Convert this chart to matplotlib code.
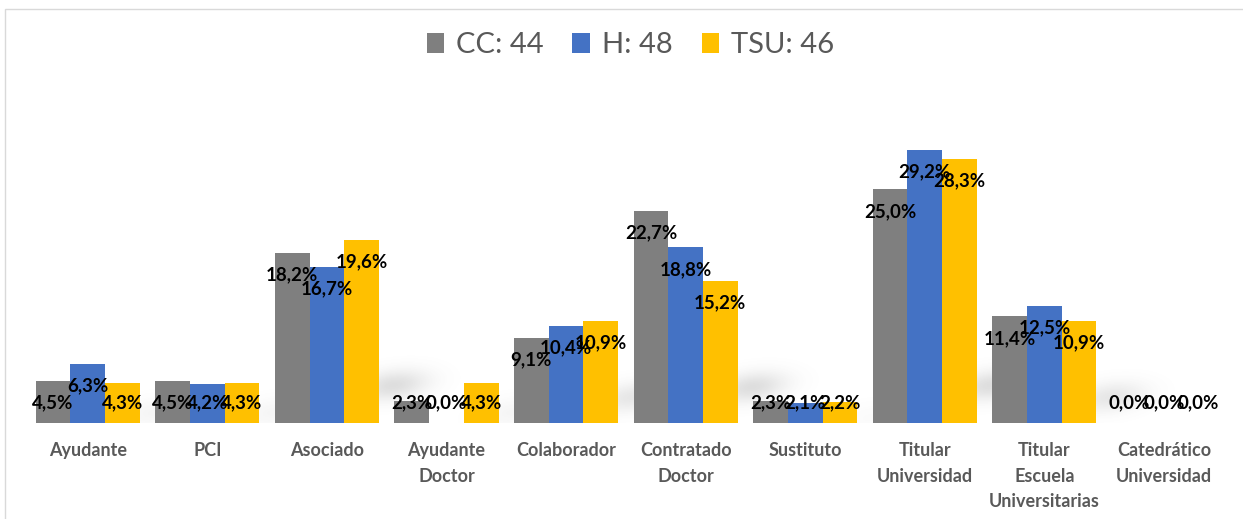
import numpy as np
import matplotlib.pyplot as plt
from matplotlib.patches import Rectangle, Patch

categories = ["Ayudante", "PCI", "Asociado", "Ayudante\nDoctor", "Colaborador",
              "Contratado\nDoctor", "Sustituto", "Titular\nUniversidad",
              "Titular\nEscuela\nUniversitarias", "Catedrático\nUniversidad"]
series = ["CC: 44", "H: 48", "TSU: 46"]
cc = [4.5, 4.5, 18.2, 2.3, 9.1, 22.7, 2.3, 25.0, 11.4, 0.0]
h = [6.3, 4.2, 16.7, 0.0, 10.4, 18.8, 2.1, 29.2, 12.5, 0.0]
tsu = [4.3, 4.3, 19.6, 4.3, 10.9, 15.2, 2.2, 28.3, 10.9, 0.0]
colors = ["#7F7F7F", "#4472C4", "#FFC000"]

plt.rcParams['font.family'] = ['Lato', 'DejaVu Sans']

fig = plt.figure(figsize=(12.43, 5.19), dpi=100)
ax = fig.add_axes([0.0225, 0.185, 0.962, 0.63])

x = np.arange(len(categories))
w = 0.29
ymax = 35

# soft shadow cast to the right of each group, drawn under the bars
gx = np.linspace(-0.5, len(categories) - 0.5, 1200)
gy = np.linspace(0, ymax, 330)
GX, GY = np.meshgrid(gx, gy)
shade = np.zeros_like(GX)
for xi, t in zip(x, tsu):
    if t <= 0:
        continue
    x0 = xi + 1.5 * w + 0.12
    y0 = min(0.25 * t, 4.0)
    dx = GX - x0
    dy = GY - y0 - 1.5 * dx
    shade += min(t / 15, 1) * np.exp(-0.5 * ((dx / 0.2) ** 2 + (dy / 1.1) ** 2))
shade = np.clip(shade, 0, 1) * 0.2
rgba = np.zeros(shade.shape + (4,))
rgba[..., :3] = 0.35
rgba[..., 3] = shade
ax.imshow(rgba, extent=(gx[0], gx[-1], 0, ymax), origin="lower",
          aspect="auto", zorder=1, interpolation="bilinear")

for i, (vals, col) in enumerate(zip([cc, h, tsu], colors)):
    xs = x + (i - 1) * w
    ax.bar(xs, vals, width=w, color=col, zorder=2)
    for xi, v in zip(xs, vals):
        ty = max(v - 2.35, 2.15)
        ax.text(xi, ty, f"{v:.1f}%".replace(".", ","), ha="center", va="center",
                fontsize=13.5, fontweight="bold", color="black", zorder=3)

ax.set_xlim(-0.5, len(categories) - 0.5)
ax.set_ylim(0, ymax)
ax.set_yticks([])
ax.set_xticks(x)
ax.set_xticklabels(categories, fontsize=13, fontweight="bold", color="#595959",
                   linespacing=1.6)
ax.tick_params(axis="x", length=0, pad=14)
for s in ax.spines.values():
    s.set_visible(False)

handles = [Patch(facecolor=c, edgecolor="none") for c in colors]
fig.legend(handles, series, loc="center", bbox_to_anchor=(0.507, 0.913), ncol=3,
           frameon=False, fontsize=21, labelcolor="#595959",
           handlelength=0.6, handleheight=0.65, handletextpad=0.4, columnspacing=1.0)

# light frame around the chart area
fig.patches.append(Rectangle((5 / 1243, -0.01), 1.0, 1 - 9 / 519 + 0.01,
                             transform=fig.transFigure, fill=False,
                             edgecolor="#D9D9D9", linewidth=1))

fig.savefig("out.png", dpi=100)
